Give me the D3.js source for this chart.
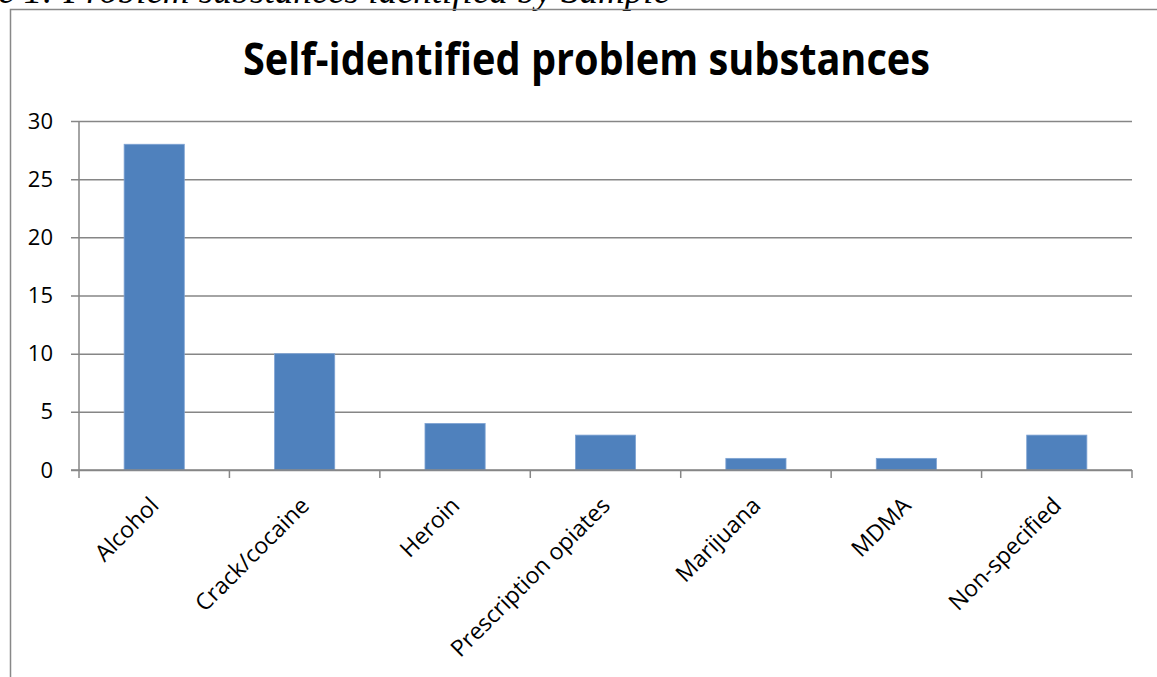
<!DOCTYPE html>
<html><head><meta charset="utf-8">
<script src="https://cdn.jsdelivr.net/npm/d3@7"></script>
<style>html,body{margin:0;padding:0;background:#fff;overflow:hidden}</style>
</head><body>
<svg id="c" width="1157" height="677"></svg>
<script>
const categories = ["Alcohol","Crack/cocaine","Heroin","Prescription opiates","Marijuana","MDMA","Non-specified"];
const values = [28,10,4,3,1,1,3];
const yTicks = [0,5,10,15,20,25,30];
const titleText = "Self-identified problem substances";
const captionText = "e 1: Problem substances identified by Sample";

const svg = d3.select("#c");
const W = 1157, H = 677;
const m = {left:79, right:1132, top:121, bottom:470};

// caption (cut off at top, as in the source)
const cap = svg.append("text").attr("x",-2).attr("y",3)
  .attr("font-family","Liberation Serif").attr("font-style","italic")
  .attr("font-size",26).attr("fill","#000").text(captionText);
const cw = cap.node().getComputedTextLength();
cap.attr("font-size", 26*672/cw);

// chart border
svg.append("rect").attr("x",10.5).attr("y",9.5).attr("width",W+20).attr("height",H+20)
  .attr("fill","none").attr("stroke","#888").attr("stroke-width",1.5);

// title
svg.append("text").attr("x",243).attr("y",75)
  .attr("font-family","Open Sans").attr("font-weight","bold").attr("font-size",45)
  .attr("textLength",687).attr("lengthAdjust","spacingAndGlyphs")
  .attr("fill","#000").text(titleText);

const x = d3.scaleBand().domain(categories).range([m.left,m.right]).paddingInner(0.6).paddingOuter(0.3);
const xb = d3.scaleBand().domain(categories).range([m.left,m.right]);
const y = d3.scaleLinear().domain([0,30]).range([m.bottom,m.top]);

// gridlines + y axis
const yAxis = d3.axisLeft(y).tickValues(yTicks).tickSize(8);
const gy = svg.append("g").attr("transform",`translate(${m.left},0)`).call(yAxis);
gy.select(".domain").attr("stroke","#868686").attr("stroke-width",1.5).attr("d",`M0,${m.top}V${m.bottom}`);
gy.selectAll(".tick line").attr("stroke","#868686").attr("stroke-width",1.5)
  .attr("x1",-8).attr("x2",m.right-m.left);
gy.selectAll(".tick text").attr("font-family","Open Sans").attr("font-size",22).attr("fill","#000")
  .attr("x",-26).attr("dy","0.32em").attr("text-anchor","end");

// bars
svg.append("g").selectAll("rect").data(values).join("rect")
  .attr("x",(d,i)=>x(categories[i])).attr("width",x.bandwidth())
  .attr("y",d=>y(d)).attr("height",d=>y(0)-y(d))
  .attr("fill","#4F81BD").attr("stroke","#7FA3D3").attr("stroke-width",0.8);

// x axis
const gx = svg.append("g").attr("transform",`translate(0,${m.bottom})`);
gx.append("line").attr("x1",m.left-8).attr("x2",m.right).attr("y1",0).attr("y2",0)
  .attr("stroke","#868686").attr("stroke-width",1.5);
const edges = categories.map(c=>xb(c)).concat([m.right]);
gx.selectAll("line.tk").data(edges).join("line").attr("class","tk")
  .attr("x1",d=>d).attr("x2",d=>d).attr("y1",0).attr("y2",8)
  .attr("stroke","#868686").attr("stroke-width",1.5);
gx.selectAll("text.lb").data(categories).join("text").attr("class","lb")
  .attr("transform",d=>`translate(${xb(d)+xb.bandwidth()/2+6},${37}) rotate(-45)`)
  .attr("text-anchor","end").attr("font-family","Open Sans").attr("font-size",23).attr("fill","#000")
  .text(d=>d);
</script>
</body></html>
